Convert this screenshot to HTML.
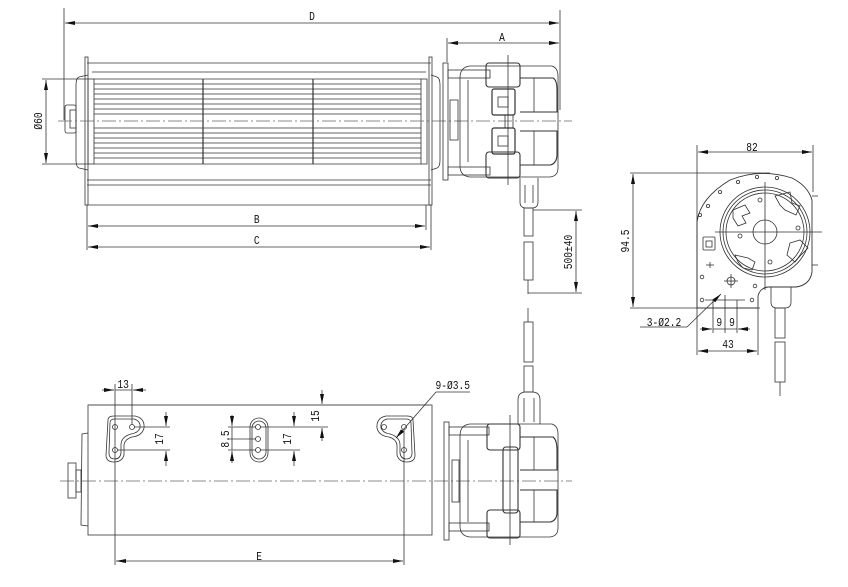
<!DOCTYPE html>
<html><head><meta charset="utf-8"><style>
html,body{margin:0;padding:0;background:#fff}
svg{display:block}
text{font-family:"Liberation Mono",monospace;font-size:12px;fill:#111}
</style></head><body>
<svg width="848" height="587" viewBox="0 0 848 587" xmlns="http://www.w3.org/2000/svg">
<defs>
<marker id="a" viewBox="0 0 10 4" refX="10" refY="2" markerWidth="10" markerHeight="4" orient="auto-start-reverse" markerUnits="userSpaceOnUse"><path d="M0,0L10,2L0,4Z" fill="#111"/></marker>
</defs>
<g fill="none" stroke="#333" stroke-width="0.8">

<!-- ===== TOP VIEW ===== -->
<line x1="64" y1="8" x2="64" y2="120"/>
<line x1="560" y1="10" x2="560" y2="110"/>
<line x1="447" y1="38" x2="447" y2="62"/>
<line x1="65" y1="23" x2="559" y2="23" marker-start="url(#a)" marker-end="url(#a)"/>
<line x1="448" y1="43" x2="559" y2="43" marker-start="url(#a)" marker-end="url(#a)"/>
<line x1="87" y1="63" x2="431" y2="63"/>
<line x1="92" y1="72" x2="426" y2="72"/>
<rect x="85" y="57" width="3" height="148"/>
<rect x="429" y="57" width="3" height="148"/>
<path d="M88,75 L79,77 Q76,78 76,85 L76,160 Q76,167 79,168 L88,170"/>
<path d="M431,75 L437,77 Q440,78 440,85 L440,160 Q440,167 437,168 L431,170"/>
<rect x="65" y="105" width="11" height="28" rx="2"/>
<rect x="70" y="110" width="6" height="18"/>
<rect x="88" y="79" width="6" height="85"/>
<rect x="421" y="79" width="6" height="85"/>
<g>
<line x1="94" y1="79" x2="421" y2="79"/>
<line x1="94" y1="84" x2="421" y2="84"/>
<line x1="94" y1="89" x2="421" y2="89"/>
<line x1="94" y1="94" x2="421" y2="94"/>
<line x1="94" y1="99" x2="421" y2="99"/>
<line x1="94" y1="104" x2="421" y2="104"/>
<line x1="94" y1="109" x2="421" y2="109"/>
<line x1="94" y1="114" x2="421" y2="114"/>
<line x1="94" y1="128" x2="421" y2="128"/>
<line x1="94" y1="133" x2="421" y2="133"/>
<line x1="94" y1="138" x2="421" y2="138"/>
<line x1="94" y1="143" x2="421" y2="143"/>
<line x1="94" y1="148" x2="421" y2="148"/>
<line x1="94" y1="153" x2="421" y2="153"/>
<line x1="94" y1="158" x2="421" y2="158"/>
<line x1="94" y1="164" x2="421" y2="164"/>
</g>
<line x1="203" y1="79" x2="203" y2="164" stroke-width="1.2"/>
<line x1="313" y1="79" x2="313" y2="164" stroke-width="1.2"/>
<line x1="87" y1="180" x2="431" y2="180"/>
<line x1="87" y1="185" x2="431" y2="185"/>
<line x1="87" y1="205" x2="431" y2="205"/>
<line x1="87" y1="205" x2="87" y2="250"/>
<line x1="431" y1="205" x2="431" y2="250"/>
<line x1="426" y1="205" x2="426" y2="230"/>
<line x1="88" y1="226" x2="425" y2="226" marker-start="url(#a)" marker-end="url(#a)"/>
<line x1="88" y1="247" x2="430" y2="247" marker-start="url(#a)" marker-end="url(#a)"/>
<line x1="42" y1="79" x2="88" y2="79"/>
<line x1="42" y1="164" x2="88" y2="164"/>
<line x1="46" y1="80" x2="46" y2="163" marker-start="url(#a)" marker-end="url(#a)"/>
<line x1="58" y1="121" x2="572" y2="121" stroke-dasharray="14,3,2,3" stroke="#666"/>
<rect x="443" y="63" width="5" height="117"/>
<rect x="448" y="70" width="42" height="8"/>
<rect x="448" y="167" width="42" height="8"/>
<path d="M470,66 L552,66 Q558,68 558,76 L558,168 Q558,176 550,177 L470,177 Q460,176 460,166 L460,78 Q460,67 470,66Z"/>
<line x1="468" y1="80" x2="468" y2="162"/>
<rect x="486" y="63" width="34" height="24" rx="3" stroke-width="1.1"/>
<rect x="486" y="152" width="34" height="26" rx="3" stroke-width="1.1"/>
<rect x="492" y="89" width="23" height="26" rx="2" stroke-width="1.2"/>
<rect x="492" y="128" width="23" height="26" rx="2" stroke-width="1.2"/>
<rect x="498" y="97" width="10" height="10"/>
<rect x="498" y="136" width="10" height="10"/>
<rect x="505" y="115" width="8" height="13"/>
<path d="M520,78 L553,78 Q557,80 557,90 L557,112 L520,112" stroke-width="1.1"/>
<path d="M520,131 L557,131 L557,156 Q556,164 550,165 L520,165" stroke-width="1.1"/>
<line x1="534" y1="78" x2="534" y2="112"/>
<line x1="534" y1="131" x2="534" y2="165"/>
<line x1="508" y1="55" x2="508" y2="185"/>
<rect x="450" y="100" width="8" height="40"/>
<path d="M520,178 L520,202 Q520,208 526,208 L532,208 Q538,208 538,202 L538,178"/>
<line x1="525" y1="185" x2="525" y2="203"/><line x1="533" y1="185" x2="533" y2="203"/>
<rect x="524" y="208" width="9" height="28"/>
<rect x="524" y="242" width="9" height="38"/>
<line x1="528" y1="280" x2="528" y2="294"/>
<line x1="533" y1="210" x2="582" y2="210"/>
<line x1="528" y1="293" x2="582" y2="293"/>
<line x1="576" y1="211" x2="576" y2="292" marker-start="url(#a)" marker-end="url(#a)"/>

<!-- ===== RIGHT VIEW ===== -->
<line x1="697" y1="145" x2="697" y2="355"/>
<line x1="813" y1="145" x2="813" y2="192"/>
<line x1="698" y1="152" x2="812" y2="152" marker-start="url(#a)" marker-end="url(#a)"/>
<line x1="630" y1="173" x2="770" y2="173"/>
<line x1="630" y1="308" x2="760" y2="308"/>
<line x1="633" y1="174" x2="633" y2="307" marker-start="url(#a)" marker-end="url(#a)"/>
<path d="M697,308 L697,222 Q700,198 730,180 Q760,168 792,178 Q808,186 812,200 L812,272 Q810,285 796,287 L768,287 Q760,288 758,296 L758,308 Z" stroke-width="0.9"/>
<circle cx="765" cy="232" r="45"/>
<circle cx="765" cy="232" r="42"/>
<circle cx="765" cy="232" r="39"/>
<circle cx="765" cy="232" r="12"/>
<line x1="715" y1="232" x2="822" y2="232"/>
<line x1="765" y1="182" x2="765" y2="290"/>
<path d="M733,210 L745,205 L750,213 L742,216 L746,223 L738,226 L733,218Z"/>
<path d="M775,196 L790,192 L792,203 L800,206 L796,215 L785,210 L780,205Z"/>
<path d="M790,243 L800,240 L808,248 L800,256 L795,262 L787,255Z"/>
<path d="M735,255 L748,258 L755,262 L752,270 L743,268 L738,262Z"/>
<circle cx="760" cy="200" r="2"/><circle cx="798" cy="228" r="2"/><circle cx="740" cy="236" r="2"/><circle cx="770" cy="262" r="2"/>
<circle cx="738" cy="182" r="1.6"/><circle cx="757" cy="177" r="1.6"/><circle cx="777" cy="178" r="1.6"/><circle cx="720" cy="192" r="1.6"/><circle cx="708" cy="206" r="1.6"/><circle cx="700" cy="215" r="1.6"/>
<circle cx="702" cy="277" r="1.8"/><circle cx="755" cy="286" r="1.8"/><circle cx="702" cy="300" r="1.8"/><circle cx="752" cy="300" r="1.8"/>
<rect x="703" y="237" width="12" height="13" rx="1"/>
<rect x="706" y="241" width="6" height="6"/>
<circle cx="731" cy="281" r="4"/><line x1="724" y1="281" x2="738" y2="281"/><line x1="731" y1="274" x2="731" y2="288"/>
<line x1="706" y1="265" x2="714" y2="265"/><line x1="710" y1="262" x2="710" y2="268"/>
<line x1="812" y1="196" x2="818" y2="196"/><line x1="812" y1="265" x2="818" y2="265"/>
<path d="M771,287 L771,302 Q771,308 777,308 L785,308 Q791,308 791,302 L791,287"/>
<rect x="775" y="308" width="10" height="30"/>
<rect x="775" y="342" width="10" height="40"/>
<line x1="780" y1="382" x2="780" y2="396"/>
<line x1="713" y1="300" x2="713" y2="333"/><line x1="725" y1="295" x2="725" y2="333"/><line x1="737" y1="300" x2="737" y2="333"/>
<line x1="705" y1="300" x2="745" y2="300"/>
<line x1="700" y1="329" x2="712" y2="329" marker-end="url(#a)"/>
<line x1="713" y1="329" x2="737" y2="329"/>
<line x1="750" y1="329" x2="738" y2="329" marker-end="url(#a)"/>
<line x1="758" y1="308" x2="758" y2="355"/>
<line x1="698" y1="351" x2="757" y2="351" marker-start="url(#a)" marker-end="url(#a)"/>
<line x1="640" y1="327" x2="687" y2="327"/>
<line x1="687" y1="327" x2="721" y2="294" marker-end="url(#a)"/>

<!-- ===== BOTTOM VIEW ===== -->
<rect x="88" y="405" width="344" height="130"/>
<line x1="88" y1="405" x2="432" y2="405" stroke="#888" stroke-width="1.6"/>
<path d="M88,433 L82,434 L81,525 L88,526"/>
<rect x="68" y="463" width="8" height="35"/>
<rect x="76" y="470" width="5" height="22"/>
<line x1="60" y1="481" x2="572" y2="481" stroke-dasharray="14,3,2,3" stroke="#666"/>
<path d="M108,420 Q108,416 114,416 L135,416 Q145,418 144,428 Q142,436 132,437 Q125,439 124,445 L124,455 Q122,462 114,462 Q106,462 106,455 Z"/>
<path d="M110,423 Q110,419 115,419 L134,419 Q141,421 140,428 Q138,433 131,434 Q121,437 121,445 L121,453 Q120,459 115,459 Q109,459 109,453 Z"/>
<circle cx="115" cy="427" r="2.5"/><circle cx="132" cy="427" r="2.5"/><circle cx="115" cy="450" r="2.5"/>
<rect x="250" y="418" width="18" height="44" rx="9"/>
<rect x="252" y="421" width="14" height="38" rx="7"/>
<circle cx="258" cy="427" r="2.5"/><circle cx="258" cy="439" r="2.5"/><circle cx="258" cy="450" r="2.5"/>
<path d="M413,420 Q413,416 407,416 L386,416 Q376,418 377,428 Q379,436 389,437 Q396,439 397,445 L397,455 Q399,462 407,462 Q415,462 415,455 Z"/>
<path d="M411,423 Q411,419 406,419 L387,419 Q380,421 381,428 Q383,433 390,434 Q400,437 400,445 L400,453 Q401,459 406,459 Q412,459 412,453 Z"/>
<circle cx="384" cy="427" r="2.5"/><circle cx="404" cy="427" r="2.5"/><circle cx="404" cy="450" r="2.5"/>
<line x1="115" y1="384" x2="115" y2="565"/>
<line x1="132" y1="384" x2="132" y2="425"/>
<line x1="404" y1="430" x2="404" y2="565"/>
<line x1="102" y1="390" x2="114" y2="390" marker-end="url(#a)"/>
<line x1="146" y1="390" x2="133" y2="390" marker-end="url(#a)"/>
<line x1="115" y1="390" x2="132" y2="390"/>
<line x1="134" y1="427" x2="170" y2="427"/><line x1="117" y1="450" x2="170" y2="450"/>
<line x1="166" y1="412" x2="166" y2="426" marker-end="url(#a)"/>
<line x1="166" y1="466" x2="166" y2="451" marker-end="url(#a)"/>
<line x1="260" y1="427" x2="300" y2="427"/>
<line x1="228" y1="439" x2="256" y2="439"/><line x1="228" y1="450" x2="256" y2="450"/><line x1="228" y1="427" x2="256" y2="427"/>
<line x1="232" y1="415" x2="232" y2="426" marker-end="url(#a)"/>
<line x1="232" y1="463" x2="232" y2="451" marker-end="url(#a)"/>
<line x1="232" y1="427" x2="232" y2="450"/>
<line x1="260" y1="450" x2="300" y2="450"/>
<line x1="294" y1="412" x2="294" y2="426" marker-end="url(#a)"/>
<line x1="294" y1="466" x2="294" y2="451" marker-end="url(#a)"/>
<line x1="300" y1="427" x2="328" y2="427"/>
<line x1="322" y1="390" x2="322" y2="404" marker-end="url(#a)"/>
<line x1="322" y1="441" x2="322" y2="428" marker-end="url(#a)"/>
<line x1="116" y1="561" x2="403" y2="561" marker-start="url(#a)" marker-end="url(#a)"/>
<line x1="436" y1="392" x2="470" y2="392"/>
<line x1="436" y1="392" x2="396" y2="438" marker-end="url(#a)"/>
<rect x="444" y="422" width="5" height="118"/>
<rect x="449" y="427" width="40" height="8"/>
<rect x="449" y="523" width="40" height="8"/>
<path d="M470,424 L552,424 Q558,426 558,434 L558,528 Q558,536 550,537 L470,537 Q460,536 460,526 L460,436 Q460,425 470,424Z"/>
<line x1="468" y1="440" x2="468" y2="522"/>
<rect x="452" y="460" width="7" height="42"/>
<rect x="487" y="424" width="33" height="26" rx="3" stroke-width="1.1"/>
<rect x="487" y="510" width="33" height="28" rx="3" stroke-width="1.1"/>
<rect x="503" y="447" width="15" height="66" rx="3" stroke-width="1.1"/>
<path d="M520,437 L553,437 Q557,440 557,450 L557,470 L520,470" stroke-width="1.1"/>
<path d="M520,490 L557,490 L557,514 Q556,521 550,522 L520,522" stroke-width="1.1"/>
<line x1="534" y1="437" x2="534" y2="470"/>
<line x1="534" y1="490" x2="534" y2="522"/>
<line x1="510" y1="415" x2="510" y2="545"/>
<path d="M518,424 L518,400 Q518,392 526,392 L532,392 Q540,392 540,400 L540,424"/>
<line x1="524" y1="398" x2="524" y2="422"/><line x1="534" y1="398" x2="534" y2="422"/>
<rect x="524" y="366" width="9" height="26"/>
<rect x="524" y="322" width="9" height="40"/>
<line x1="528" y1="308" x2="528" y2="322"/>
</g>

<g transform="scale(0.8,1)">
<text x="390" y="20" text-anchor="middle">D</text>
<text x="627.5" y="41" text-anchor="middle">A</text>
<text x="321" y="223" text-anchor="middle">B</text>
<text x="321" y="244" text-anchor="middle">C</text>
<text x="940" y="151" text-anchor="middle">82</text>
<text x="830" y="326" text-anchor="middle">3-Ø2.2</text>
<text x="899" y="326" text-anchor="middle">9</text>
<text x="915" y="326" text-anchor="middle">9</text>
<text x="910" y="348" text-anchor="middle">43</text>
<text x="154" y="388" text-anchor="middle">13</text>
<text x="566" y="389" text-anchor="middle">9-Ø3.5</text>
<text x="324" y="560" text-anchor="middle">E</text>
</g>
<text transform="translate(42,121) rotate(-90) scale(0.8,1)" text-anchor="middle">Ø60</text>
<text transform="translate(572,252) rotate(-90) scale(0.8,1)" text-anchor="middle">500±40</text>
<text transform="translate(629,241) rotate(-90) scale(0.8,1)" text-anchor="middle">94.5</text>
<text transform="translate(319,416) rotate(-90) scale(0.8,1)" text-anchor="middle">15</text>
<text transform="translate(163,439) rotate(-90) scale(0.8,1)" text-anchor="middle">17</text>
<text transform="translate(291,439) rotate(-90) scale(0.8,1)" text-anchor="middle">17</text>
<text transform="translate(229,439) rotate(-90) scale(0.8,1)" text-anchor="middle">8.5</text>
</svg>
</body></html>
